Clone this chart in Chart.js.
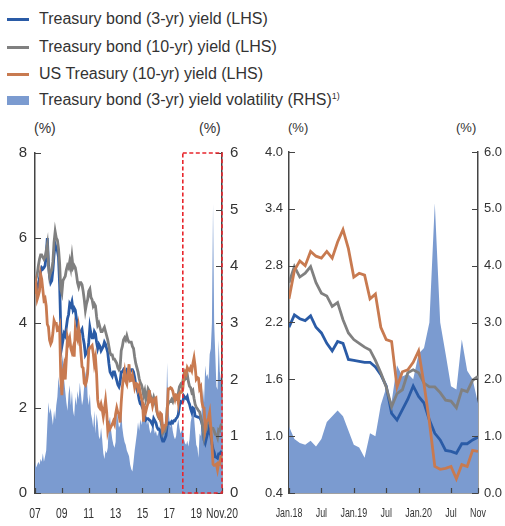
<!DOCTYPE html>
<html>
<head>
<meta charset="utf-8">
<script src="https://cdn.jsdelivr.net/npm/chart.js@4"></script>
<style>
  body { margin: 0; background: #fff; }
  #wrap { position: relative; width: 505px; height: 526px; overflow: hidden; font-family: "Liberation Sans", Arial, sans-serif; color: #333; }
  .leg { position: absolute; left: 0; padding-left: 39px; font-size: 16px; line-height: 18px; white-space: nowrap; }
  .leg i { position: absolute; left: 7px; width: 22px; }
  .leg sup { font-size: 9px; vertical-align: 6px; line-height: 0; }
  .unit { position: absolute; font-size: 14px; line-height: 16px; }
  canvas { position: absolute; top: 136px; }
</style>
</head>
<body>
<div id="wrap">
  <div class="leg" style="top:10px"><i style="top:7.5px;height:3px;background:#2a5ba6"></i>Treasury bond (3-yr) yield (LHS)</div>
  <div class="leg" style="top:38px"><i style="top:7.5px;height:3px;background:#808080"></i>Treasury bond (10-yr) yield (LHS)</div>
  <div class="leg" style="top:65px"><i style="top:7.5px;height:3px;background:#c87a50"></i>US Treasury (10-yr) yield (LHS)</div>
  <div class="leg" style="top:91px"><i style="top:4.5px;height:9px;background:#7b9bd0"></i>Treasury bond (3-yr) yield volatility (RHS)<sup>1)</sup></div>

  <div class="unit" style="left:34px;top:120px">(%)</div>
  <div class="unit" style="left:199px;top:120px">(%)</div>
  <div class="unit" style="left:288px;top:120px;font-size:13px">(%)</div>
  <div class="unit" style="left:456px;top:120px;font-size:13px">(%)</div>

  <canvas id="left" width="252" height="390" style="left:0"></canvas>
  <canvas id="right" width="253" height="390" style="left:252px"></canvas>
</div>
<script>
// monthly readings, Jan 2007 .. Nov 2020 (last point = end of Nov 2020)
const blue3y = [
  4.92, 4.86, 4.80, 4.92, 5.05, 5.20, 5.30, 5.27, 5.30, 5.35, 5.60, 6.00,
  5.40, 5.10, 4.95, 5.00, 5.25, 5.60, 5.85, 5.75, 5.70, 5.55, 4.90, 3.90,
  3.45, 3.60, 3.75, 3.70, 3.90, 4.10, 4.20, 4.45, 4.40, 4.50, 4.30, 4.35,
  4.30, 4.10, 3.90, 3.75, 3.80, 3.80, 3.85, 3.65, 3.50, 3.25, 3.30, 3.30,
  3.55, 3.90, 3.75, 3.65, 3.65, 3.80, 3.75, 3.55, 3.40, 3.50, 3.45, 3.35,
  3.40, 3.45, 3.55, 3.50, 3.40, 3.30, 3.05, 2.85, 2.80, 2.75, 2.85, 2.85,
  2.75, 2.65, 2.55, 2.50, 2.60, 2.85, 2.85, 2.90, 2.85, 2.80, 2.90, 2.88,
  2.85, 2.85, 2.90, 2.90, 2.85, 2.72, 2.55, 2.45, 2.35, 2.20, 2.10, 2.08,
  2.00, 1.95, 1.80, 1.72, 1.75, 1.75, 1.72, 1.70, 1.65, 1.60, 1.75, 1.70,
  1.65, 1.55, 1.50, 1.50, 1.45, 1.30, 1.22, 1.22, 1.28, 1.35, 1.60, 1.65,
  1.65, 1.63, 1.68, 1.65, 1.70, 1.70, 1.75, 1.78, 1.85, 2.05, 2.15, 2.13,
  2.15, 2.28, 2.24, 2.22, 2.27, 2.15, 2.09, 1.98, 1.90, 2.00, 1.98, 1.81,
  1.80, 1.79, 1.78, 1.78, 1.73, 1.65, 1.53, 1.24, 1.17, 1.28, 1.39, 1.53,
  1.42, 1.35, 1.17, 1.03, 0.96, 0.85, 0.84, 0.82, 0.92, 0.92, 0.96, 0.99
];
const gray10y = [
  5.00, 5.05, 5.15, 5.35, 5.50, 5.60, 5.60, 5.55, 5.50, 5.55, 5.70, 5.85,
  5.35, 5.10, 5.20, 5.25, 5.45, 5.90, 6.15, 6.00, 5.95, 5.75, 5.40, 4.80,
  4.70, 5.00, 5.05, 5.10, 5.25, 5.35, 5.30, 5.45, 5.30, 5.55, 5.30, 5.35,
  5.30, 5.15, 4.95, 4.85, 4.95, 4.95, 4.90, 4.75, 4.55, 4.30, 4.45, 4.55,
  4.75, 4.80, 4.60, 4.55, 4.40, 4.45, 4.40, 4.15, 3.95, 4.00, 3.90, 3.80,
  3.80, 3.85, 3.90, 3.80, 3.70, 3.60, 3.45, 3.30, 3.25, 3.25, 3.15, 3.15,
  3.10, 3.05, 2.95, 2.90, 2.95, 3.35, 3.45, 3.60, 3.65, 3.60, 3.70, 3.60,
  3.55, 3.55, 3.55, 3.45, 3.40, 3.20, 3.05, 2.95, 2.85, 2.70, 2.60, 2.55,
  2.45, 2.30, 2.40, 2.20, 2.30, 2.45, 2.40, 2.30, 2.20, 2.15, 2.25, 2.15,
  2.05, 1.90, 1.80, 1.75, 1.75, 1.60, 1.40, 1.45, 1.45, 1.55, 2.00, 2.10,
  2.15, 2.15, 2.20, 2.15, 2.25, 2.20, 2.20, 2.25, 2.35, 2.50, 2.55, 2.50,
  2.62, 2.79, 2.68, 2.72, 2.79, 2.62, 2.51, 2.48, 2.37, 2.41, 2.23, 2.09,
  2.02, 1.98, 1.94, 1.91, 1.80, 1.67, 1.52, 1.31, 1.45, 1.49, 1.67, 1.70,
  1.67, 1.56, 1.52, 1.52, 1.46, 1.38, 1.37, 1.30, 1.49, 1.47, 1.59, 1.63
];
const us10y = [
  4.68, 4.88, 4.56, 4.65, 4.75, 5.15, 5.03, 4.78, 4.54, 4.58, 4.40, 3.97,
  3.91, 3.60, 3.51, 3.57, 3.77, 4.06, 3.99, 3.99, 3.82, 3.83, 3.92, 2.73,
  2.30, 2.85, 2.98, 2.67, 3.16, 3.66, 3.54, 3.64, 3.40, 3.31, 3.41, 3.21,
  3.85, 3.69, 3.61, 3.89, 3.69, 3.31, 2.97, 2.94, 2.58, 2.54, 2.63, 2.81,
  3.36, 3.42, 3.44, 3.47, 3.29, 3.04, 3.18, 2.80, 2.19, 2.03, 1.99, 2.09,
  1.97, 1.80, 1.98, 2.18, 1.91, 1.47, 1.59, 1.51, 1.57, 1.62, 1.69, 1.62,
  1.86, 2.00, 1.89, 1.86, 1.66, 2.13, 2.49, 2.71, 2.86, 2.64, 2.57, 2.80,
  3.03, 2.64, 2.65, 2.77, 2.64, 2.48, 2.58, 2.57, 2.43, 2.51, 2.35, 2.24,
  2.12, 1.68, 2.00, 1.92, 2.03, 2.12, 2.42, 2.17, 2.20, 2.05, 2.16, 2.22,
  2.24, 1.92, 1.83, 1.77, 1.88, 1.85, 1.47, 1.51, 1.59, 1.60, 1.84, 2.45,
  2.45, 2.48, 2.46, 2.40, 2.29, 2.20, 2.31, 2.30, 2.12, 2.34, 2.38, 2.37,
  2.45, 2.75, 2.85, 2.80, 2.95, 2.90, 2.88, 2.95, 2.88, 3.05, 3.18, 2.98,
  2.68, 2.72, 2.70, 2.45, 2.50, 2.15, 2.02, 2.00, 1.52, 1.68, 1.70, 1.78,
  1.90, 1.55, 1.15, 0.68, 0.65, 0.66, 0.68, 0.55, 0.70, 0.68, 0.85, 0.84
];
const vol3y = [
  0.55, 0.45, 0.50, 0.55, 0.50, 0.60, 0.55, 0.70, 0.55, 0.65, 0.75, 1.20,
  1.60, 1.40, 1.50, 1.35, 1.20, 1.45, 1.30, 1.55, 1.70, 2.05, 1.85, 2.15,
  2.30, 2.45, 2.00, 1.80, 1.60, 1.45, 1.75, 1.90, 1.55, 1.80, 1.45, 1.35,
  1.70, 1.55, 1.80, 1.65, 1.95, 1.75, 1.55, 1.65, 1.90, 2.10, 2.20, 1.70,
  1.55, 1.75, 1.40, 1.30, 1.15, 1.45, 1.05, 1.40, 1.25, 1.00, 0.95, 1.15,
  0.95, 0.70, 0.60, 0.75, 0.70, 0.80, 1.25, 1.35, 1.10, 0.95, 0.85, 0.80,
  0.90, 1.60, 1.30, 1.15, 1.20, 1.45, 1.15, 1.00, 0.90, 0.85, 0.75, 0.70,
  0.65, 0.50, 0.42, 0.38, 0.55, 0.75, 0.90, 1.05, 1.25, 1.10, 1.30, 1.20,
  1.35, 1.25, 1.40, 1.45, 1.20, 1.30, 1.15, 1.05, 1.10, 1.25, 1.15, 1.05,
  1.10, 1.00, 1.05, 1.20, 0.95, 1.15, 1.30, 1.20, 1.05, 1.25, 2.30, 1.50,
  1.30, 1.15, 1.25, 1.10, 1.00, 0.95, 1.00, 1.20, 1.30, 1.15, 1.05, 1.10,
  1.17, 0.95, 0.88, 0.85, 0.92, 0.82, 0.95, 1.25, 1.35, 1.45, 1.35, 1.10,
  0.85, 0.80, 0.62, 1.05, 1.00, 1.55, 1.85, 1.60, 2.25, 2.05, 2.10, 2.00,
  2.45, 2.55, 3.00, 5.10, 3.00, 2.45, 1.88, 1.82, 2.70, 2.15, 2.00, 1.58
];
// tick positions are month indexes from Jan 2007
const leftTickPos = [0, 24, 48, 72, 96, 120, 144, 167];
const leftTickLabels = ['07', '09', '11', '13', '15', '17', '19', 'Nov.20'];
const rightTickPos = [132, 138, 144, 150, 156, 162, 167];
const rightTickLabels = ['Jan.18', 'Jul', 'Jan.19', 'Jul', 'Jan.20', 'Jul', 'Nov'];
const zoomStart = 132;

const plain = "'Liberation Sans', Arial, sans-serif";

function points(arr, from) {
  const out = [];
  for (let i = from; i < arr.length; i++) out.push({x: i, y: arr[i]});
  return out;
}

function makeSets(from) {
  return [
    {label: 'Treasury bond (3-yr) yield (LHS)', data: points(blue3y, from), yAxisID: 'y',
     borderColor: '#2a5ba6', borderWidth: 2.8, pointRadius: 0, fill: false, order: 2},
    {label: 'Treasury bond (10-yr) yield (LHS)', data: points(gray10y, from), yAxisID: 'y',
     borderColor: '#808080', borderWidth: 2.8, pointRadius: 0, fill: false, order: 1},
    {label: 'US Treasury (10-yr) yield (LHS)', data: points(us10y, from), yAxisID: 'y',
     borderColor: '#c87a50', borderWidth: 2.8, pointRadius: 0, fill: false, order: 0},
    {label: 'Treasury bond (3-yr) yield volatility (RHS)', data: points(vol3y, from), yAxisID: 'y1',
     backgroundColor: '#7b9bd0', borderWidth: 0, pointRadius: 0, fill: 'origin', order: 3}
  ];
}

// inward tick marks, narrow x labels, optional dashed box
const innerTicks = {
  id: 'innerTicks',
  afterDraw(chart, args, opts) {
    const ctx = chart.ctx, a = chart.chartArea;
    const sx = chart.scales.x;
    ctx.save();
    ctx.strokeStyle = '#444';
    ctx.lineWidth = 1.2;
    ctx.beginPath();
    ['y', 'y1'].forEach(id => {
      const s = chart.scales[id];
      const x0 = id === 'y' ? a.left : a.right;
      const dir = id === 'y' ? 1 : -1;
      s.ticks.forEach(t => {
        const y = Math.round(s.getPixelForValue(t.value)) + 0.5;
        ctx.moveTo(x0, y);
        ctx.lineTo(x0 + dir * 6, y);
      });
    });
    sx.ticks.forEach(t => {
      const x = Math.round(sx.getPixelForValue(t.value)) + 0.5;
      ctx.moveTo(x, a.bottom);
      ctx.lineTo(x, a.bottom - 5);
    });
    ctx.stroke();

    // condensed x tick labels
    ctx.fillStyle = '#333';
    ctx.font = opts.xFont + 'px ' + plain;
    ctx.textAlign = 'center';
    ctx.textBaseline = 'middle';
    sx.ticks.forEach(t => {
      const x = sx.getPixelForValue(t.value);
      ctx.save();
      ctx.translate(x, a.bottom + opts.xGap);
      ctx.scale(0.74, 1);
      ctx.fillText(opts.labels[opts.pos.indexOf(t.value)], 0, 0);
      ctx.restore();
    });

    if (opts.box) {
      const x1 = sx.getPixelForValue(opts.box[0]);
      ctx.strokeStyle = '#e8262d';
      ctx.lineWidth = 1.6;
      ctx.setLineDash([4, 2.5]);
      ctx.strokeRect(x1, a.top, a.right - x1, a.bottom - a.top);
    }
    ctx.restore();
  }
};

function axisBase(extra) {
  return Object.assign({
    z: 1,
    grid: {display: true, drawOnChartArea: false, drawTicks: false},
    border: {display: true, color: '#444', width: 1.5}
  }, extra);
}

function build(id, cfg) {
  const tickFmt = cfg.fixed ? (v => Number(v).toFixed(1)) : (v => String(v));
  new Chart(document.getElementById(id), {
    type: 'line',
    data: {datasets: makeSets(cfg.from)},
    options: {
      responsive: false,
      animation: false,
      devicePixelRatio: 1,
      layout: {padding: {top: 16, left: 0, right: 0, bottom: 0}},
      elements: {line: {tension: 0}},
      plugins: {
        legend: {display: false}, tooltip: {enabled: false},
        innerTicks: {box: cfg.box, pos: cfg.tickPos, labels: cfg.tickLabels, xFont: cfg.xFont, xGap: 21}
      },
      scales: {
        x: axisBase({
          type: 'linear', min: cfg.from, max: 167,
          afterBuildTicks: s => { s.ticks = cfg.tickPos.map(v => ({value: v})); },
          afterFit: s => { s.height = 33; s.paddingLeft = 0; s.paddingRight = 0; },
          ticks: {display: false}
        }),
        y: axisBase({
          position: 'left', min: cfg.yMin, max: cfg.yMax,
          afterFit: s => { s.width = cfg.leftW; },
          ticks: {stepSize: cfg.yStep, padding: cfg.pad, color: '#333',
                  font: {family: plain, size: cfg.yFont}, callback: tickFmt}
        }),
        y1: axisBase({
          position: 'right', min: 0, max: 6,
          afterFit: s => { s.width = cfg.rightW; },
          ticks: {stepSize: 1, padding: cfg.pad, color: '#333',
                  font: {family: plain, size: cfg.yFont}, callback: tickFmt}
        })
      }
    },
    plugins: [innerTicks]
  });
}

build('left', {from: 0, box: [zoomStart, 167], tickPos: leftTickPos, tickLabels: leftTickLabels,
  yMin: 0, yMax: 8, yStep: 2, leftW: 35, rightW: 30, pad: 8, xFont: 14, yFont: 15, fixed: false});
build('right', {from: zoomStart, box: null, tickPos: rightTickPos, tickLabels: rightTickLabels,
  yMin: 0.4, yMax: 4.0, yStep: 0.6, leftW: 37, rightW: 27, pad: 6, xFont: 12, yFont: 13, fixed: true});
</script>
</body>
</html>
